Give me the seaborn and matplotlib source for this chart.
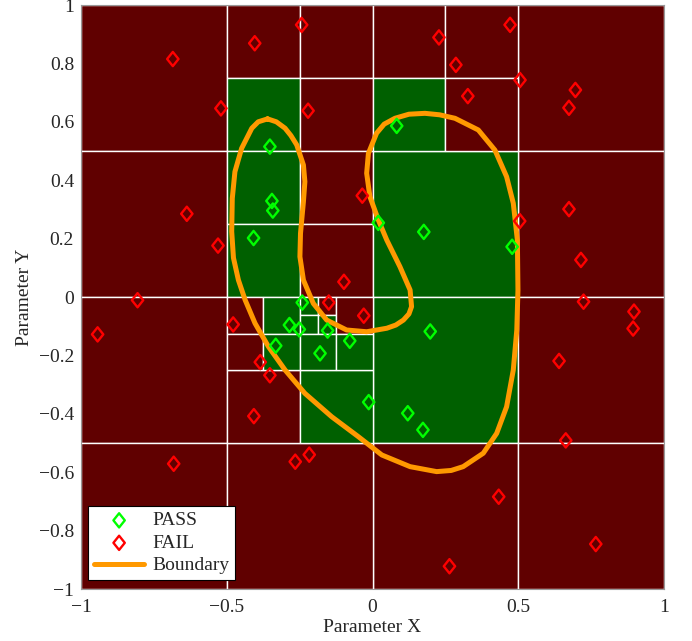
import numpy as np
import pandas as pd
import seaborn as sns
import matplotlib.pyplot as plt
from matplotlib.patches import Rectangle
from matplotlib.path import Path

# quadtree cells: lower-left corner, size, pass flag
cell_x = [-1, -0.5, -0.25, -0.5, -0.25, -1, -0.5, -0.5, -0.25, -0.25,
          0.5, 0.5, 0, 0, 0.25, 0, 0.25,
          0, 0.5, 0, 0.5,
          -1, -1, -0.5, -0.5, -0.25, -0.5, -0.375, -0.5, -0.375,
          -0.25, -0.1875, -0.25, -0.1875, -0.125, -0.25, -0.125]
cell_y = [0.5, 0.75, 0.75, 0.5, 0.5, 0, 0.25, 0, 0.25, 0,
          0.5, 0, 0, 0.75, 0.75, 0.5, 0.5,
          -0.5, -0.5, -1, -1,
          -0.5, -1, -1, -0.5, -0.5, -0.125, -0.125, -0.25, -0.25,
          -0.0625, -0.0625, -0.125, -0.125, -0.125, -0.25, -0.25]
cell_w = [0.5, 0.25, 0.25, 0.25, 0.25, 0.5, 0.25, 0.25, 0.25, 0.25,
          0.5, 0.5, 0.5, 0.25, 0.25, 0.25, 0.25,
          0.5, 0.5, 0.5, 0.5,
          0.5, 0.5, 0.5, 0.25, 0.25, 0.125, 0.125, 0.125, 0.125,
          0.0625, 0.0625, 0.0625, 0.0625, 0.125, 0.125, 0.125]
cell_pass = [0, 0, 0, 1, 0, 0, 1, 1, 0, 0,
             0, 0, 1, 0, 0, 1, 0,
             1, 0, 0, 0,
             0, 0, 0, 0, 1, 0, 1, 0, 1,
             1, 0, 1, 1, 0, 1, 1]

pass_x = [-0.352, -0.345, -0.342, -0.408, 0.083, 0.020, 0.176, 0.479, -0.241, -0.285,
          -0.251, -0.154, -0.332, -0.180, -0.078, -0.013, 0.198, 0.121, 0.173]
pass_y = [0.515, 0.329, 0.296, 0.202, 0.586, 0.254, 0.223, 0.172, -0.019, -0.096,
          -0.111, -0.115, -0.167, -0.193, -0.150, -0.360, -0.118, -0.398, -0.455]

fail_x = [-0.685, -0.404, -0.243, -0.520, -0.221, -0.637, -0.530, -0.035, -0.098,
          0.228, 0.472, 0.286, 0.506, 0.327, 0.696, 0.674, 0.505, 0.674, 0.715,
          -0.806, -0.943, -0.478, -0.150, -0.030, -0.385, -0.352, -0.407, -0.682, -0.265, -0.217,
          0.724, 0.897, 0.894, 0.640, 0.663, 0.433, 0.766, 0.264]
fail_y = [0.815, 0.869, 0.932, 0.646, 0.638, 0.285, 0.176, 0.347, 0.052,
          0.889, 0.932, 0.795, 0.743, 0.688, 0.709, 0.648, 0.260, 0.301, 0.127,
          -0.011, -0.128, -0.094, -0.019, -0.064, -0.223, -0.268, -0.408, -0.571, -0.564, -0.540,
          -0.016, -0.050, -0.108, -0.219, -0.491, -0.684, -0.846, -0.922]

# traced boundary (closed)
bnd_x = [-0.360, -0.392, -0.414, -0.449, -0.472, -0.481, -0.483, -0.477, -0.460, -0.437, -0.403,
         -0.357, -0.300, -0.232, -0.140, -0.049, 0.032, 0.129, 0.220, 0.270, 0.311, 0.380,
         0.426, 0.460, 0.483, 0.495, 0.499, 0.497, 0.483, 0.460, 0.420, 0.363,
         0.283, 0.230, 0.180, 0.125, 0.077, 0.040, 0.014, -0.014, -0.020, -0.009, 0.020, 0.049, 0.094,
         0.129, 0.134, 0.125, 0.106, 0.080, 0.049, -0.020, -0.089, -0.157, -0.203, -0.237, -0.249,
         -0.247, -0.237, -0.232, -0.237, -0.260, -0.280, -0.300, -0.330, -0.360]
bnd_y = [0.610, 0.600, 0.578, 0.509, 0.429, 0.338, 0.224, 0.134, 0.058, -0.010, -0.090,
         -0.170, -0.250, -0.330, -0.410, -0.478, -0.541, -0.581, -0.598, -0.594, -0.581, -0.535,
         -0.467, -0.376, -0.250, -0.113, 0.024, 0.195, 0.321, 0.412, 0.503, 0.572,
         0.612, 0.624, 0.629, 0.626, 0.612, 0.592, 0.561, 0.492, 0.424, 0.344, 0.264, 0.195, 0.104,
         0.024, -0.033, -0.058, -0.079, -0.096, -0.107, -0.119, -0.113, -0.079, -0.022, 0.058, 0.138,
         0.218, 0.326, 0.395, 0.452, 0.521, 0.553, 0.578, 0.600, 0.610]

sns.set_style("white")
plt.rcParams['font.family'] = ['Liberation Serif', 'DejaVu Serif']
plt.rcParams['font.size'] = 14

fig = plt.figure(figsize=(6.92, 6.41), dpi=100)
ax = fig.add_axes([81 / 692, 1 - 589 / 641, 583 / 692, 584 / 641])

for x0, y0, w, ok in zip(cell_x, cell_y, cell_w, cell_pass):
    ax.add_patch(Rectangle((x0, y0), w, w, facecolor='#006000' if ok else '#600000',
                           edgecolor='white', linewidth=1.0, zorder=1))

diamond = Path([(0, 1), (0.8, 0), (0, -1), (-0.8, 0), (0, 1)],
               [Path.MOVETO, Path.LINETO, Path.LINETO, Path.LINETO, Path.CLOSEPOLY])

sns.scatterplot(x=pass_x, y=pass_y, marker=diamond, s=105, facecolor='none',
                edgecolor='#00ff00', linewidth=1.7, label='PASS', ax=ax, zorder=4)
sns.scatterplot(x=fail_x, y=fail_y, marker=diamond, s=105, facecolor='none',
                edgecolor='#ff0000', linewidth=1.7, label='FAIL', ax=ax, zorder=4)

bnd = pd.DataFrame({'x': bnd_x, 'y': bnd_y})
sns.lineplot(data=bnd, x='x', y='y', sort=False, estimator=None, color='#ff9900',
             linewidth=3.6, label='Boundary', ax=ax, zorder=3,
             solid_joinstyle='round', solid_capstyle='round')

ax.set_xlim(-1, 1)
ax.set_ylim(-1, 1)
ax.set_xticks([-1, -0.5, 0, 0.5, 1])
ax.set_xticklabels(['\u22121', '\u22120.5', '0', '0.5', '1'])
yt = [-1, -0.8, -0.6, -0.4, -0.2, 0, 0.2, 0.4, 0.6, 0.8, 1]
ax.set_yticks(yt)
ax.set_yticklabels([('\u2212' if v < 0 else '') + ('%g' % abs(v)) for v in yt])
ax.tick_params(axis='both', length=0, labelsize=14)
ax.tick_params(axis='x', pad=7)
ax.tick_params(axis='y', pad=5)
ax.set_xlabel('Parameter X', fontsize=14, labelpad=2)
ax.set_ylabel('Parameter Y', fontsize=14, labelpad=4)
for sp in ax.spines.values():
    sp.set_color('#999999')
    sp.set_linewidth(0.8)
    sp.set_zorder(5)

leg = ax.legend(loc='lower left', bbox_to_anchor=(0.012, 0.015), borderaxespad=0,
                fontsize=14, frameon=True, fancybox=False, edgecolor='black',
                framealpha=1, handlelength=2.6, handletextpad=0.4, labelspacing=0.25,
                borderpad=0.3)
leg.get_frame().set_linewidth(0.8)

fig.savefig('out.png', dpi=100)
